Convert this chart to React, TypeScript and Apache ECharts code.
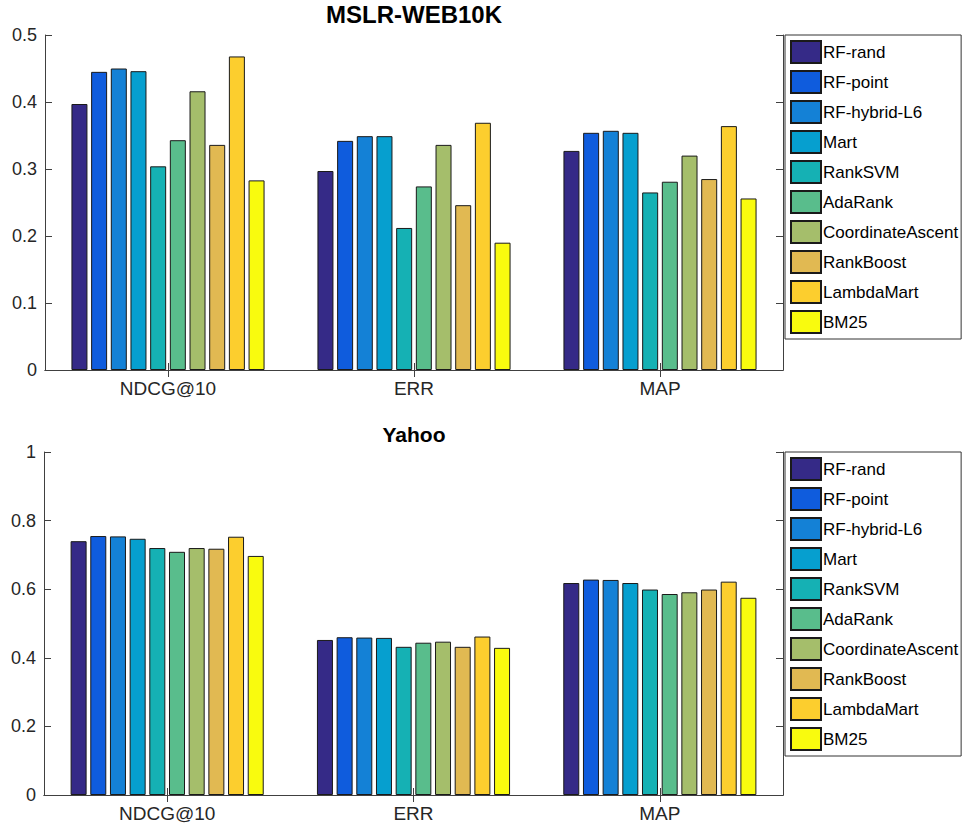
import React, { useEffect, useRef } from "react";
import * as echarts from "echarts";

const categories = ["NDCG@10", "ERR", "MAP"];
const methods = [
  "RF-rand",
  "RF-point",
  "RF-hybrid-L6",
  "Mart",
  "RankSVM",
  "AdaRank",
  "CoordinateAscent",
  "RankBoost",
  "LambdaMart",
  "BM25",
];
const colors = [
  "#352a87",
  "#0f5cdd",
  "#1481d6",
  "#069fcf",
  "#15b1b4",
  "#59bd8c",
  "#a5be6b",
  "#e1b952",
  "#fcce2e",
  "#f9fb0e",
];

// MSLR-WEB10K values per method: [NDCG@10, ERR, MAP]
const mslrValues = [
  [0.397, 0.297, 0.327],
  [0.445, 0.342, 0.354],
  [0.45, 0.349, 0.357],
  [0.446, 0.349, 0.354],
  [0.304, 0.212, 0.265],
  [0.343, 0.274, 0.281],
  [0.416, 0.336, 0.32],
  [0.336, 0.246, 0.285],
  [0.468, 0.369, 0.364],
  [0.283, 0.19, 0.256],
];

// Yahoo values per method: [NDCG@10, ERR, MAP]
const yahooValues = [
  [0.74, 0.452, 0.618],
  [0.755, 0.46, 0.628],
  [0.754, 0.459, 0.627],
  [0.747, 0.458, 0.618],
  [0.72, 0.432, 0.599],
  [0.709, 0.444, 0.586],
  [0.72, 0.447, 0.591],
  [0.718, 0.432, 0.599],
  [0.753, 0.462, 0.622],
  [0.697, 0.429, 0.575],
];

const mslrTicks = { min: 0, max: 0.5, interval: 0.1 };
const yahooTicks = { min: 0, max: 1, interval: 0.2 };

const FONT = "'Liberation Sans', Arial, sans-serif";
const AXIS_COLOR = "#404040";
const LABEL_COLOR = "#262626";

export default function App() {
  const ref = useRef<HTMLDivElement>(null);

  useEffect(() => {
    if (!ref.current) return;
    const chart = echarts.init(ref.current, undefined, { renderer: "svg" });

    const grids = [
      { left: 45, top: 35, width: 738, height: 335 },
      { left: 44, top: 452, width: 739, height: 343 },
    ];
    const ranges = [mslrTicks, yahooTicks];

    const xAxis: any[] = [];
    const yAxis: any[] = [];
    grids.forEach((_, gi) => {
      xAxis.push({
        type: "category",
        gridIndex: gi,
        data: categories,
        position: "bottom",
        axisLine: { show: true, lineStyle: { color: AXIS_COLOR, width: 1 } },
        axisTick: { show: true, inside: true, length: 7, alignWithLabel: true, lineStyle: { color: AXIS_COLOR } },
        axisLabel: { fontSize: 19, color: LABEL_COLOR, fontFamily: FONT, margin: 9 },
        splitLine: { show: false },
      });
      xAxis.push({
        type: "category",
        gridIndex: gi,
        data: categories,
        position: "top",
        axisLine: { show: true, lineStyle: { color: AXIS_COLOR, width: 1 } },
        axisTick: { show: true, inside: true, length: 7, alignWithLabel: true, lineStyle: { color: AXIS_COLOR } },
        axisLabel: { show: false },
        splitLine: { show: false },
      });
      yAxis.push({
        type: "value",
        gridIndex: gi,
        position: "left",
        min: ranges[gi].min,
        max: ranges[gi].max,
        interval: ranges[gi].interval,
        axisLine: { show: true, lineStyle: { color: AXIS_COLOR, width: 1 } },
        axisTick: { show: true, inside: true, length: 7, lineStyle: { color: AXIS_COLOR } },
        axisLabel: { fontSize: 18, color: LABEL_COLOR, fontFamily: FONT, margin: 8 },
        splitLine: { show: false },
      });
      yAxis.push({
        type: "value",
        gridIndex: gi,
        position: "right",
        min: ranges[gi].min,
        max: ranges[gi].max,
        interval: ranges[gi].interval,
        axisLine: { show: true, lineStyle: { color: AXIS_COLOR, width: 1 } },
        axisTick: { show: true, inside: true, length: 7, lineStyle: { color: AXIS_COLOR } },
        axisLabel: { show: false },
        splitLine: { show: false },
      });
    });

    const series: any[] = [];
    const datasets = [mslrValues, yahooValues];
    datasets.forEach((vals, gi) => {
      methods.forEach((m, i) => {
        series.push({
          type: "bar",
          name: m,
          xAxisIndex: gi * 2,
          yAxisIndex: gi * 2,
          data: vals[i],
          barWidth: 16,
          barGap: "23%",
          itemStyle: { color: colors[i], borderColor: "#1a1a1a", borderWidth: 1 },
          emphasis: { disabled: true },
        });
      });
    });

    const legendBase = {
      orient: "vertical",
      left: 785,
      data: methods,
      icon: "rect",
      itemWidth: 30,
      itemHeight: 22,
      itemGap: 6,
      padding: [5, 3, 5, 5],
      borderColor: "#333",
      borderWidth: 1,
      backgroundColor: "#fff",
      selectedMode: false,
      textStyle: { fontSize: 17, lineHeight: 20, color: "#000", fontFamily: FONT, padding: [0, 0, 0, -3] },
    };

    chart.setOption({
      animation: false,
      backgroundColor: "#fff",
      textStyle: { fontFamily: FONT },
      title: [
        {
          text: "MSLR-WEB10K",
          left: 414,
          top: 2,
          textAlign: "center",
          padding: 0,
          textStyle: { fontSize: 24, fontWeight: "bold", color: "#000", fontFamily: FONT },
        },
        {
          text: "Yahoo",
          left: 414,
          top: 424,
          textAlign: "center",
          padding: 0,
          textStyle: { fontSize: 21, fontWeight: "bold", color: "#000", fontFamily: FONT },
        },
      ],
      grid: grids.map((g) => ({ ...g, containLabel: false })),
      xAxis,
      yAxis,
      legend: [
        { ...legendBase, top: 35 },
        { ...legendBase, top: 452 },
      ],
      series,
    });

    return () => chart.dispose();
  }, []);

  return (
    <div
      ref={ref}
      style={{ position: "fixed", left: 0, top: 0, width: 964, height: 829, background: "#fff" }}
    />
  );
}
